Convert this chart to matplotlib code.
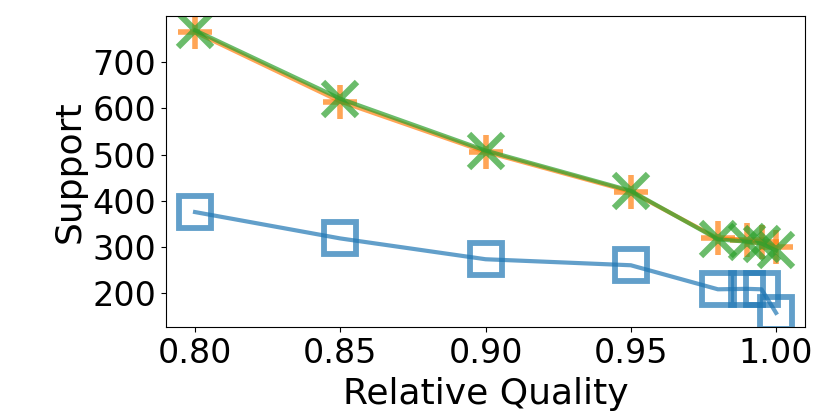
import matplotlib
matplotlib.use("Agg")
import matplotlib.pyplot as plt

quality = [0.80, 0.85, 0.90, 0.95, 0.98, 0.99, 0.995, 1.00]
support_a = [376, 319, 274, 261, 209, 210, 209, 158]
support_b = [765, 615, 506, 420, 319, 315, 312, 300]
support_c = [769, 621, 509, 422, 317, 312, 308, 293]
xticks = [0.80, 0.85, 0.90, 0.95, 1.00]
yticks = [200, 300, 400, 500, 600, 700]

plt.rcParams['font.family'] = ['DejaVu Sans']
fig = plt.figure(figsize=(8.3, 4.15), dpi=100)
ax = fig.add_axes([0.2, 0.212, 0.77, 0.749])

ax.plot(quality, support_a, color='C0', marker='s', markersize=23.5, markerfacecolor='none',
        markeredgewidth=4.2, linewidth=3, alpha=0.7)
ax.plot(quality, support_b, color='C1', marker='+', markersize=24, markeredgewidth=4,
        linewidth=3, alpha=0.7)
ax.plot(quality, support_c, color='C2', marker='x', markersize=24, markeredgewidth=4.5,
        linewidth=3, alpha=0.7)

ax.set_xticks(xticks)
ax.set_xticklabels([f"{v:.2f}" for v in xticks])
ax.set_yticks(yticks)
ax.tick_params(labelsize=24)
ax.set_xlabel("Relative Quality", fontsize=26, labelpad=5)
ax.set_ylabel("Support", fontsize=26, labelpad=4)

fig.savefig("out.png", dpi=100)
